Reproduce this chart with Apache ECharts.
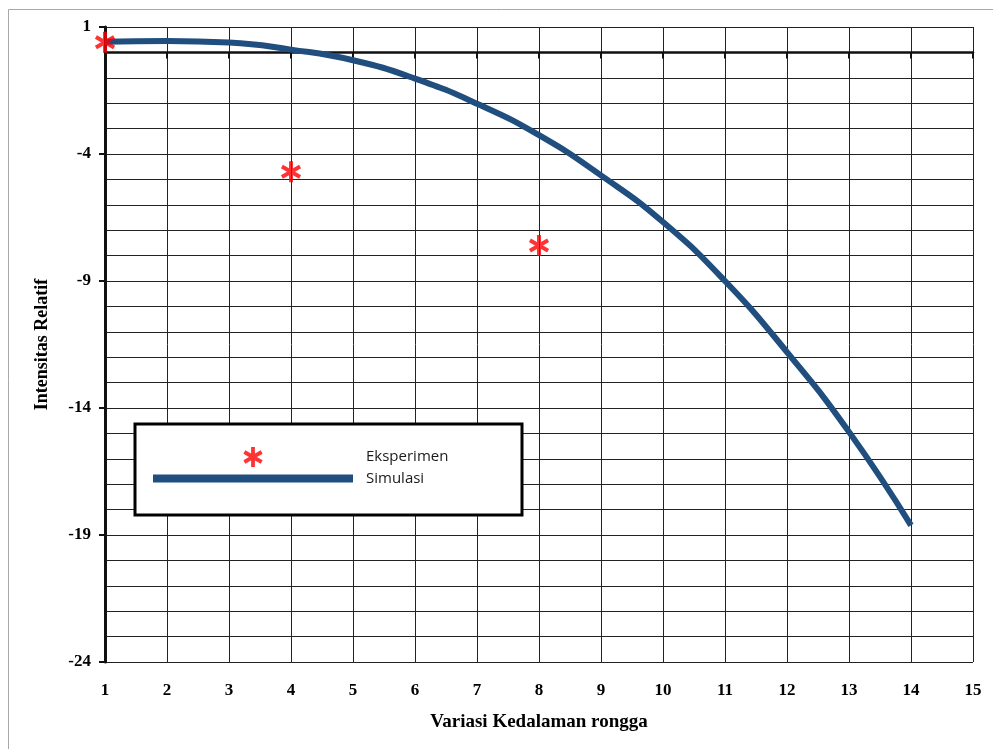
<!DOCTYPE html>
<html>
<head>
<meta charset="utf-8">
<script src="https://cdn.jsdelivr.net/npm/echarts@6/dist/echarts.min.js"></script>
<style>
  html, body { margin: 0; padding: 0; background: #fff; }
  #chart { width: 993px; height: 749px; }
</style>
</head>
<body>
<div id="chart"></div>
<script>
'use strict';

// depth variation (x) and relative intensity (y)
var depthValues = [1, 2, 3, 4, 5, 6, 7, 8, 9, 10, 11, 12, 13, 14];
var simulasiValues = [0.42, 0.45, 0.39, 0.11, -0.31, -1.03, -2.02, -3.26, -4.84, -6.68, -9.0, -11.8, -14.94, -18.62];
var eksperimenDepth = [1, 4, 8];
var eksperimenValues = [0.4, -4.7, -7.6];
var yTickLabels = [-24, -19, -14, -9, -4, 1];

// six-armed asterisk, three filled bars
var ASTERISK = 'path://M-1.9,-10L1.9,-10L1.9,10L-1.9,10Z' +
  'M7.71,-6.65L9.61,-3.35L-7.71,6.65L-9.61,3.35Z' +
  'M9.61,3.35L7.71,6.65L-9.61,-3.35L-7.71,-6.65Z';
var LEGEND_LINE = 'path://M0,0L200,0L200,8L0,8Z';

var serif = {fontFamily: 'Liberation Serif', fontWeight: 'bold', color: '#000'};
var black = '#111';

var chart = echarts.init(document.getElementById('chart'));

chart.setOption({
  backgroundColor: '#fff',
  animation: false,
  grid: {left: 105, right: 20, top: 27, bottom: 87, containLabel: false},
  xAxis: [{
    // line and ticks sitting on y = 0
    type: 'value', position: 'bottom',
    min: 1, max: 15, interval: 1,
    axisLine: {show: true, onZero: true, onZeroAxisIndex: 0, lineStyle: {color: black, width: 2.5}},
    axisTick: {show: true, inside: false, length: 6, lineStyle: {color: black, width: 2}},
    axisLabel: {show: false},
    splitLine: {show: true, lineStyle: {color: '#222', width: 1}}
  }, {
    // labels at the bottom
    type: 'value', position: 'bottom',
    min: 1, max: 15, interval: 1,
    axisLine: {show: false, onZero: false},
    axisTick: {show: false},
    splitLine: {show: false},
    axisLabel: Object.assign({fontSize: 17, margin: 20}, serif),
    name: 'Variasi Kedalaman rongga',
    nameLocation: 'middle',
    nameGap: 51,
    nameTextStyle: Object.assign({fontSize: 19}, serif)
  }],
  yAxis: [{
    type: 'value', position: 'left',
    min: -24, max: 1, interval: 1,
    axisLine: {show: false, onZero: false},
    axisTick: {show: false},
    axisLabel: {show: false},
    splitLine: {show: true, lineStyle: {color: '#222', width: 1}}
  }, {
    // labelled axis, counted from the bottom so every fifth grid line gets a tick
    type: 'value', position: 'left',
    min: 0, max: 25, interval: 5,
    axisLine: {show: true, onZero: false, lineStyle: {color: black, width: 3}},
    axisTick: {show: true, length: 6, lineStyle: {color: black, width: 2}},
    splitLine: {show: false},
    axisLabel: Object.assign({
      fontSize: 17, margin: 14,
      formatter: function(v) {
        return String(yTickLabels[Math.round(v / 5)]);
      }
    }, serif),
    name: 'Intensitas Relatif',
    nameLocation: 'middle',
    nameRotate: 90,
    nameGap: 54,
    nameTextStyle: Object.assign({fontSize: 18}, serif)
  }],
  legend: {
    orient: 'vertical',
    left: 153, top: 447,
    padding: 0,
    itemWidth: 200, itemHeight: 20, itemGap: 4,
    z: 20,
    selectedMode: false,
    textStyle: {fontFamily: 'Open Sans', fontSize: 15, color: '#1a1a1a', padding: [0, 0, 0, 8]},
    data: [
      {name: 'Eksperimen', icon: ASTERISK, itemStyle: {color: '#ff0000', borderWidth: 0}},
      {name: 'Simulasi', icon: LEGEND_LINE, itemStyle: {color: '#1f4e7f', borderWidth: 0}}
    ]
  },
  graphic: [{
    type: 'rect', z: 10, silent: true,
    shape: {x: 135, y: 424, width: 387, height: 91},
    style: {fill: '#fff', stroke: '#000', lineWidth: 3}
  }, {
    type: 'rect', z: 0, silent: true,
    shape: {x: 8.5, y: 9.5, width: 1000, height: 800},
    style: {fill: null, stroke: '#a8a8a8', lineWidth: 1}
  }],
  series: [{
    name: 'Simulasi',
    type: 'line',
    xAxisIndex: 0, yAxisIndex: 0,
    smooth: true,
    showSymbol: false,
    z: 3,
    lineStyle: {color: '#1f4e7f', width: 6},
    itemStyle: {color: '#1f4e7f'},
    data: depthValues.map(function(x, i) {
      return [x, simulasiValues[i]];
    })
  }, {
    name: 'Eksperimen',
    type: 'scatter',
    xAxisIndex: 0, yAxisIndex: 0,
    symbol: ASTERISK,
    symbolSize: 21,
    symbolKeepAspect: true,
    z: 4,
    itemStyle: {color: '#ff0000'},
    data: eksperimenDepth.map(function(x, i) {
      return [x, eksperimenValues[i]];
    })
  }]
});
</script>
</body>
</html>
